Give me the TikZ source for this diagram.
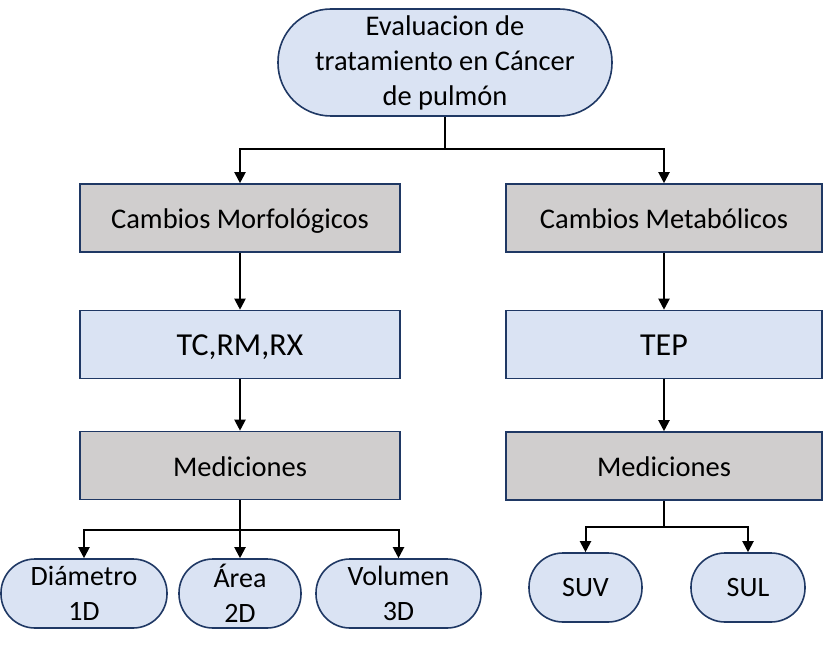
\documentclass[tikz,border=0pt]{standalone}
\usepackage{fontspec}
\setmainfont{Carlito}
\usetikzlibrary{arrows.meta}
\definecolor{bluefill}{HTML}{DAE3F3}
\definecolor{grayfill}{HTML}{D0CECE}
\definecolor{navy}{HTML}{1F3864}
\begin{document}
\begin{tikzpicture}[x=1pt,y=-1pt,
  base/.style={draw=navy,line width=1.6pt,inner sep=0pt,align=center,text=black},
  graybox/.style={base,fill=grayfill,minimum width=320pt,minimum height=68pt,font=\fontsize{28.5}{34}\selectfont,text height=21.4pt,text depth=0pt},
  bluebox/.style={base,fill=bluefill,minimum width=320pt,minimum height=68pt,font=\fontsize{32}{38}\selectfont,text height=22.4pt,text depth=0pt},
  pill/.style={base,fill=bluefill,minimum height=69pt,rounded corners=34pt,font=\fontsize{28}{35}\selectfont},
  conn/.style={line width=2pt,black},
  arr/.style={conn,-{Triangle[width=11pt,length=11pt]}}
]
\useasboundingbox (0,0) rectangle (824,647);
\node[base,fill=bluefill,minimum width=334pt,minimum height=107pt,rounded corners=53pt,font=\fontsize{28.5}{35}\selectfont] (top) at (445,62.5) {Evaluacion de\\tratamiento en Cáncer\\de pulmón};
\node[graybox] (morf) at (240,218) {Cambios Morfológicos};
\node[graybox,minimum width=316pt] (meta) at (664,218) {Cambios Metabólicos};
\node[bluebox] (tc) at (240,344.5) {TC,RM,RX};
\node[bluebox,minimum width=316pt] (tep) at (664,344.5) {TEP};
\node[graybox] (medl) at (240,465.5) {Mediciones};
\node[graybox,minimum width=316pt] (medr) at (664,466) {Mediciones};
\node[pill,minimum width=166pt] (dia) at (84,593.5) {Diámetro\\1D};
\node[pill,minimum width=122pt] (area) at (240,593.5) {Área\\2D};
\node[pill,minimum width=165pt] (vol) at (398.5,593.5) {Volumen\\3D};
\node[pill,minimum width=113pt] (suv) at (585.5,587.5) {SUV};
\node[pill,minimum width=114pt] (sul) at (748,587.5) {SUL};
% connectors
\coordinate (j1) at (445,149);
\draw[conn] (top.south) -- (j1);
\draw[arr] (j1) -| (morf.north);
\draw[arr] (j1) -| (meta.north);
\draw[arr] (morf) -- (tc);
\draw[arr] (meta) -- (tep);
\draw[arr] (tc) -- (medl);
\draw[arr] (tep) -- (medr);
\coordinate (j2) at (240,530);
\draw[conn] (medl.south) -- (j2);
\draw[arr] (j2) -| (dia.north);
\draw[arr] (j2) -- (area.north);
\draw[arr] (j2) -| (vol.north);
\coordinate (j3) at (664,527);
\draw[conn] (medr.south) -- (j3);
\draw[arr] (j3) -| (suv.north);
\draw[arr] (j3) -| (sul.north);
\end{tikzpicture}
\end{document}
